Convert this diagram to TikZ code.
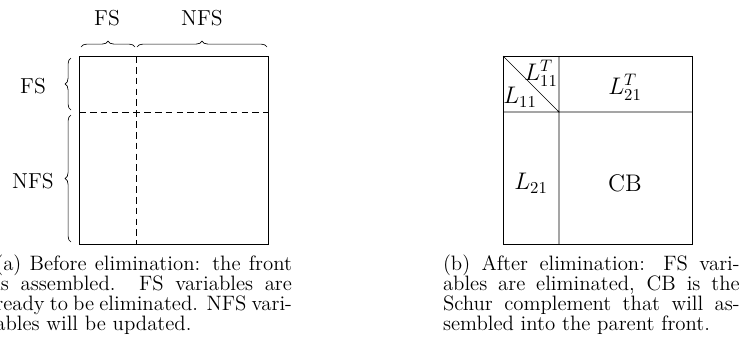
\documentclass[tikz,border=0pt]{standalone}
\usepackage{amsmath}
\usetikzlibrary{decorations.pathreplacing}

\begin{document}
\begin{tikzpicture}[x=0.6pt, y=-0.6pt,
    brace/.style={decorate, decoration={brace, amplitude=3.5pt}},
    part/.style={font=\fontsize{13}{15}\selectfont},
    block/.style={font=\Large},
    blocksplit/.style={dash pattern=on 4pt off 2.5pt},
    subcaption/.style={text width=178pt, align=justify, inner sep=0pt,
      font=\fontsize{12.5}{12}\selectfont}]
  \useasboundingbox (0,0) rectangle (748,360);
  % (a) front before elimination
  \draw (79,56) rectangle (268,244);
  \draw[blocksplit] (136,56) -- (136,244) (79,112) -- (268,112);
  \draw[brace] (81,47) -- (135,47);
  \draw[brace] (137,47) -- (267,47);
  \draw[brace] (71,110) -- (71,58);
  \draw[brace] (71,242) -- (71,115);
  \node[part] (fscol)  at (107,18) {FS};
  \node[part] (nfscol) at (202,18) {NFS};
  \node[part] (fsrow)  at (33,86)  {FS};
  \node[part] (nfsrow) at (33,181) {NFS};
  \node[subcaption, anchor=north west] (capa) at (-5,255)
    {(a) Before elimination: the front is assembled. FS variables are ready to be eliminated. NFS variables will be updated.};
  % (b) front after elimination
  \draw (503,56) rectangle (692,244);
  \draw (559,56) -- (559,244) (503,112) -- (692,112) (503,56) -- (559,112);
  \node[block] (l11t) at (541,73)  {$L_{11}^T$};
  \node[block] (l11)  at (520,97)  {$L_{11}$};
  \node[block] (l21t) at (625,87)  {$L_{21}^T$};
  \node[block] (l21)  at (531,183) {$L_{21}$};
  \node[block] (cb)   at (625,183) {CB};
  \node[subcaption, anchor=north east] (capb) at (740,255)
    {(b) After elimination: FS variables are eliminated, CB is the Schur complement that will assembled into the parent front.};
\end{tikzpicture}
\end{document}
